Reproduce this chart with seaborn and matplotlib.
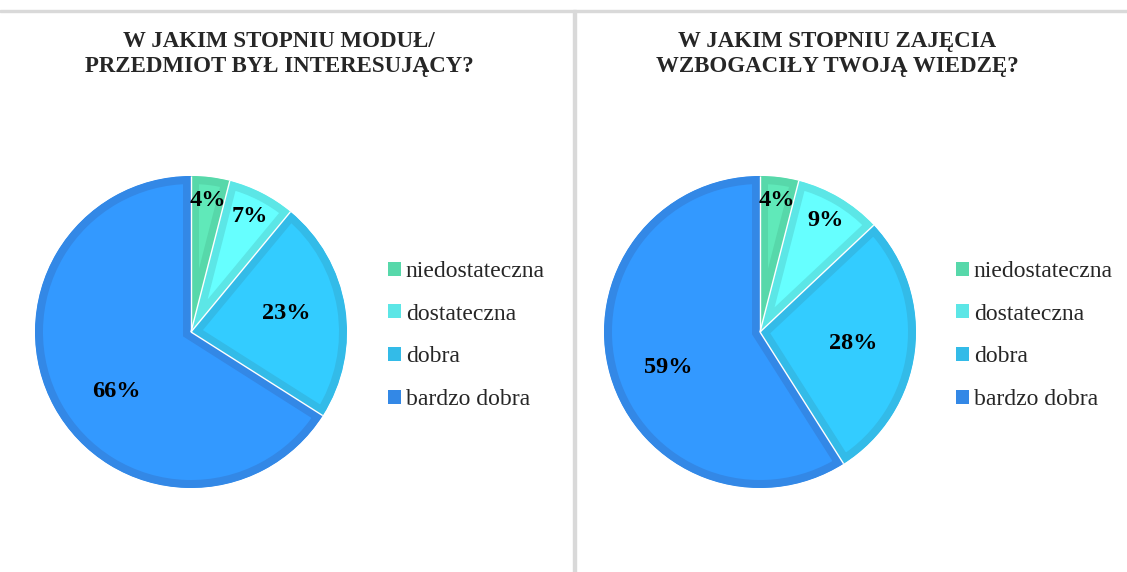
import numpy as np
import matplotlib
matplotlib.use("Agg")
import matplotlib.pyplot as plt
import seaborn as sns
from matplotlib.patches import Patch, Rectangle

# data
categories = ["niedostateczna", "dostateczna", "dobra", "bardzo dobra"]
interesting = [4, 7, 23, 66]
knowledge = [4, 9, 28, 59]
titles = ["W JAKIM STOPNIU MODUŁ/\nPRZEDMIOT BYŁ INTERESUJĄCY?",
          "W JAKIM STOPNIU ZAJĘCIA\nWZBOGACIŁY TWOJĄ WIEDZĘ?"]

fill_colors = ["#60E9B9", "#66FFFF", "#33CCFF", "#3399FF"]
edge_colors = ["#57D8AA", "#5CE6E6", "#33BBE8", "#3388E6"]

sns.set_theme(style="white")
plt.rcParams["font.family"] = ["Liberation Serif", "DejaVu Serif"]

W, H = 1127, 572
fig = plt.figure(figsize=(W / 100, H / 100), dpi=100)
fig.patch.set_facecolor("white")

# panel frame lines
fig.patches.append(Rectangle((0, 1 - 12 / H), 1, 2 / H, transform=fig.transFigure,
                             color="#D9D9D9", zorder=0))
fig.patches.append(Rectangle((573 / W, 0), 2.5 / W, 1 - 10 / H, transform=fig.transFigure,
                             color="#D9D9D9", zorder=0))


def draw_panel(cx, cy, r, values, label_pos, title, title_x, legend_x):
    ax = fig.add_axes([(cx - r) / W, (H - cy - r) / H, 2 * r / W, 2 * r / H])
    wedges, _ = ax.pie(values, colors=fill_colors, startangle=90, counterclock=False,
                       radius=1, wedgeprops=dict(linewidth=11.5))
    for w, ec in zip(wedges, edge_colors):
        w.set_edgecolor(ec)
        w.set_clip_on(True)
        w.set_clip_path(w)
    # thin white separators between slices
    for w in wedges:
        th = np.deg2rad(w.theta1)
        ax.plot([0, np.cos(th)], [0, np.sin(th)], color="white", lw=1.0,
                solid_capstyle="butt", zorder=5)
    ax.set_xlim(-1, 1)
    ax.set_ylim(-1, 1)
    for w, v, (d, shift) in zip(wedges, values, label_pos):
        th = np.deg2rad((w.theta1 + w.theta2) / 2 + shift)
        ax.text(d * np.cos(th), d * np.sin(th), f"{v}%", ha="center", va="center",
                fontsize=17.5, fontweight="bold", color="black", zorder=6)
    fig.text(title_x / W, 1 - 54 / H, title, ha="center", va="center",
             fontsize=16.5, fontweight="bold", linespacing=1.3)
    handles = [Patch(facecolor=c, edgecolor="none") for c in edge_colors]
    fig.legend(handles, categories, loc="upper left",
               bbox_to_anchor=(legend_x / W, 1 - 261 / H), frameon=False,
               fontsize=17, handlelength=0.55, handleheight=0.55, handletextpad=0.2,
               labelspacing=0.92, borderaxespad=0, borderpad=0)


draw_panel(191, 332, 156, interesting,
           [(0.85, 0), (0.83, 0), (0.62, 2), (0.61, 10)], titles[0], 279, 388)
draw_panel(760, 332, 156, knowledge,
           [(0.85, 0), (0.83, 0), (0.6, 0), (0.63, 5)], titles[1], 837, 956)

fig.savefig("out.png", dpi=100, facecolor="white")
